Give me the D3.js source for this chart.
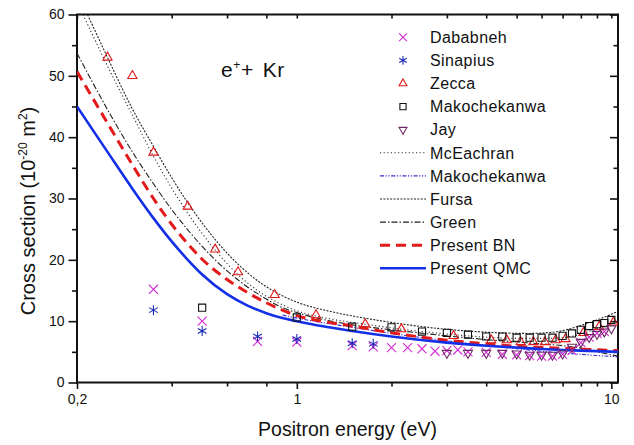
<!DOCTYPE html>
<html>
<head>
<meta charset="utf-8">
<script src="https://cdn.jsdelivr.net/npm/d3@7"></script>
<style>
  body { margin: 0; background: #fff; }
  text { font-family: Arial, "Liberation Sans", sans-serif; fill: #111; }
</style>
</head>
<body>
<div id="chart"></div>
<script>
// experimental data (energy in eV, cross section in 1e-20 m^2)
const dababnehE  = [0.35, 0.5, 0.75, 1, 1.5, 1.75, 2, 2.25, 2.5, 2.75, 3, 3.25, 3.5, 4, 4.5, 5, 5.5, 6, 6.5, 7, 7.5, 8, 8.5, 9, 9.5];
const dababnehCS = [15.2, 10.0, 6.7, 6.6, 6.0, 5.8, 5.7, 5.7, 5.5, 5.1, 5.2, 5.3, 5.0, 4.9, 4.6, 4.5, 4.4, 4.3, 4.3, 4.6, 5.2, 6.5, 7.4, 8.0, 8.3];

const sinapiusE  = [0.35, 0.5, 0.75, 1, 1.5, 1.75];
const sinapiusCS = [11.8, 8.4, 7.5, 7.1, 6.4, 6.3];

const zeccaE  = [0.25, 0.3, 0.35, 0.45, 0.55, 0.65, 0.85, 1.15, 1.65, 2.15, 3.15, 4.15, 4.65, 5.15, 5.65, 6.15, 6.65, 7.15, 8.15, 9.15, 10.15];
const zeccaCS = [53, 50, 37.5, 28.7, 21.7, 18, 14.3, 11, 9.5, 8.7, 7.6, 6.9, 6.9, 6.6, 6.6, 6.6, 6.9, 7.1, 8.1, 9.1, 9.8];

const makoE  = [0.5, 1, 1.5, 2, 2.5, 3, 3.5, 4, 4.5, 5, 5.5, 6, 6.5, 7, 7.5, 8, 8.5, 9, 9.5, 10];
const makoCS = [12.2, 10.6, 9.1, 9.0, 8.3, 8.1, 7.8, 7.5, 7.5, 7.3, 7.3, 7.3, 7.3, 7.6, 8.0, 8.6, 9.2, 9.5, 9.7, 10.2];

const jayE  = [3, 3.5, 4, 4.5, 5, 5.5, 6, 6.5, 7, 7.5, 8, 8.5, 9, 9.5, 10];
const jayCS = [4.8, 4.8, 4.8, 4.8, 4.7, 4.5, 4.5, 4.5, 4.7, 5.8, 6.6, 7.4, 7.9, 8.3, 8.8];

// theory curves
const mceachranE  = [0.209, 0.25, 0.3, 0.35, 0.4, 0.45, 0.5, 0.55, 0.65, 0.75, 0.85, 1, 1.3, 1.6, 2, 3, 4, 5, 6, 7, 8, 9, 10.5];
const mceachranCS = [60, 51.6, 43.6, 36.9, 31.7, 27.6, 24.3, 21.6, 17.6, 15.0, 13.3, 11.7, 10.3, 9.6, 8.9, 7.9, 7.4, 7.2, 7.2, 7.3, 7.9, 8.8, 9.9];

const makoThE  = [0.9, 1, 1.5, 2, 3, 4, 5, 6, 7, 8, 9, 10.5];
const makoThCS = [11.0, 10.5, 9.0, 8.0, 6.8, 6.0, 5.5, 5.1, 4.8, 4.6, 4.4, 4.2];

const fursaE  = [0.216, 0.25, 0.3, 0.35, 0.4, 0.45, 0.5, 0.55, 0.65, 0.75, 0.85, 1, 1.3, 1.6, 2, 2.7, 3.5, 4.4, 5.5, 6.5, 7.2, 8, 9, 10.5];
const fursaCS = [60, 53.0, 44.6, 38.5, 33.4, 29.3, 26.0, 23.3, 19.3, 16.6, 14.8, 13.1, 11.5, 10.6, 9.8, 8.9, 8.4, 8.1, 8.0, 8.2, 8.6, 9.3, 10.2, 11.6];

const greenE  = [0.2, 0.25, 0.3, 0.35, 0.4, 0.45, 0.5, 0.6, 0.7, 0.8, 0.9, 1, 1.5, 2, 3, 4, 5, 6, 7, 8, 9, 10.5];
const greenCS = [53.7, 44.5, 37.6, 32.4, 28.2, 24.9, 22.2, 18.2, 15.5, 13.6, 12.2, 11.4, 9.4, 8.6, 7.6, 7.0, 6.6, 6.3, 6.0, 5.6, 5.0, 4.3];

const bnE  = [0.2, 0.25, 0.3, 0.35, 0.4, 0.45, 0.5, 0.6, 0.7, 0.8, 0.9, 1, 1.2, 1.5, 2, 3, 4, 5, 6, 8, 10.5];
const bnCS = [50.7, 42.3, 35.5, 30.0, 25.8, 22.6, 20.1, 16.8, 14.6, 13.0, 11.8, 10.9, 10.0, 9.2, 8.1, 6.9, 6.3, 5.9, 5.7, 5.45, 5.2];

const qmcE  = [0.2, 0.25, 0.3, 0.35, 0.4, 0.45, 0.5, 0.6, 0.7, 0.8, 0.9, 1, 1.2, 1.5, 2, 3, 4, 5, 6, 7, 8, 10.5];
const qmcCS = [45.0, 37.6, 31.6, 26.8, 23.0, 20.0, 17.6, 14.4, 12.5, 11.3, 10.5, 10.0, 9.2, 8.4, 7.5, 6.5, 6.0, 5.7, 5.45, 5.3, 5.2, 5.0];

const xTicks = [0.2, 0.4, 0.6, 0.8, 1, 2, 3, 4, 5, 6, 7, 8, 9, 10];
const xLabels = { 0.2: "0,2", 1: "1", 10: "10" };
const yTicks = [0, 10, 20, 30, 40, 50, 60];
const yMinor = [5, 15, 25, 35, 45, 55];

// canvas
const W = 634, H = 445;
const margins = { top: 14.5, right: 16, bottom: 62.5, left: 77 };

const svg = d3.select("#chart").append("svg")
    .attr("width", W)
    .attr("height", H);

const xScale = d3.scaleLog()
    .domain([0.2, 10.5])
    .range([margins.left, W - margins.right]);

const yScale = d3.scaleLinear()
    .domain([0, 60])
    .range([H - margins.bottom, margins.top]);

const x0 = margins.left, x1 = W - margins.right;
const y0 = H - margins.bottom, y1 = margins.top;

// axes
const bottomAxis = svg.append("g")
    .attr("transform", "translate(0," + y0 + ")")
    .call(d3.axisBottom(xScale).tickValues(xTicks)
        .tickSize(4).tickFormat(d => xLabels[d] || ""));
bottomAxis.selectAll(".tick line")
    .attr("y2", d => xLabels[d] ? 6.5 : 4);

svg.append("g")
    .attr("transform", "translate(0," + y1 + ")")
    .call(d3.axisTop(xScale).tickValues(xTicks).tickSize(-4).tickFormat(""));

svg.append("g")
    .attr("transform", "translate(" + x0 + ",0)")
    .call(d3.axisLeft(yScale).tickValues(yTicks).tickSize(8.5).tickPadding(4));
svg.append("g")
    .attr("transform", "translate(" + x0 + ",0)")
    .call(d3.axisLeft(yScale).tickValues(yMinor).tickSize(5).tickFormat(""));

svg.append("g")
    .attr("transform", "translate(" + x1 + ",0)")
    .call(d3.axisRight(yScale).tickValues(yTicks).tickSize(-8).tickFormat(""));
svg.append("g")
    .attr("transform", "translate(" + x1 + ",0)")
    .call(d3.axisRight(yScale).tickValues(yMinor).tickSize(-4.5).tickFormat(""));

svg.selectAll(".domain").remove();
svg.selectAll(".tick line").attr("stroke", "#111").attr("stroke-width", 1.6);
svg.selectAll(".tick text")
    .style("font-family", "Arial, 'Liberation Sans', sans-serif")
    .style("font-size", "14px")
    .attr("fill", "#111");
bottomAxis.selectAll(".tick text").attr("dy", "1.05em");

// frame
svg.append("rect")
    .attr("x", x0).attr("y", y1)
    .attr("width", x1 - x0).attr("height", y0 - y1)
    .attr("fill", "none")
    .attr("stroke", "#111")
    .attr("stroke-width", 2);

// axis titles
svg.append("text")
    .attr("x", (x0 + x1) / 2)
    .attr("y", 436)
    .style("text-anchor", "middle")
    .style("font-size", "19.5px")
    .text("Positron energy (eV)");

const yTitle = svg.append("text")
    .attr("transform", "translate(35,211) rotate(-90)")
    .style("text-anchor", "middle")
    .style("font-size", "20px");
yTitle.append("tspan").text("Cross section (10");
yTitle.append("tspan").attr("dy", -8).style("font-size", "12px").text("-20");
yTitle.append("tspan").attr("dy", 8).text(" m");
yTitle.append("tspan").attr("dy", -8).style("font-size", "12px").text("2");
yTitle.append("tspan").attr("dy", 8).text(")");

// annotation
const ann = svg.append("text")
    .attr("x", 221)
    .attr("y", 77)
    .style("font-size", "21px")
    .style("letter-spacing", "0.6px");
ann.append("tspan").text("e");
ann.append("tspan").attr("dy", -8).style("font-size", "12px").text("+");
ann.append("tspan").attr("dy", 8).text("+");
ann.append("tspan").attr("dx", 9).text("Kr");

// plotting group clipped to frame
svg.append("clipPath").attr("id", "clip")
    .append("rect").attr("x", x0).attr("y", y1)
    .attr("width", x1 - x0).attr("height", y0 - y1);
const plot = svg.append("g").attr("clip-path", "url(#clip)");

const lineGen = d3.line()
    .x(d => xScale(d[0]))
    .y(d => yScale(d[1]))
    .curve(d3.curveMonotoneX);

const curves = [
    { name: "McEachran",   e: mceachranE, cs: mceachranCS, color: "#333", width: 1.1, dash: "1.2,2.4" },
    { name: "Makochekanwa", e: makoThE,   cs: makoThCS,    color: "#3b2fd6", width: 1.1, dash: "4,1.6,1.2,1.6,1.2,1.6" },
    { name: "Fursa",       e: fursaE,     cs: fursaCS,     color: "#222", width: 1.1, dash: "2,1.4" },
    { name: "Green",       e: greenE,     cs: greenCS,     color: "#222", width: 1.1, dash: "6,2,1.5,2" },
    { name: "Present BN",  e: bnE,        cs: bnCS,        color: "#e41a1a", width: 3, dash: "10,6" },
    { name: "Present QMC", e: qmcE,       cs: qmcCS,       color: "#1430e6", width: 2.6, dash: null }
];

curves.forEach(c => {
    plot.append("path")
        .datum(d3.zip(c.e, c.cs))
        .attr("d", lineGen)
        .attr("fill", "none")
        .attr("stroke", c.color)
        .attr("stroke-width", c.width)
        .attr("stroke-dasharray", c.dash);
});

// markers
const markers = [
    { name: "Dababneh",     e: dababnehE, cs: dababnehCS, color: "#d42ad4", type: d3.symbolTimes,     size: 55, rot: 0 },
    { name: "Sinapius",     e: sinapiusE, cs: sinapiusCS, color: "#1c2ab8", type: d3.symbolAsterisk,  size: 70, rot: 0 },
    { name: "Zecca",        e: zeccaE,    cs: zeccaCS,    color: "#e01818", type: d3.symbolTriangle2, size: 60, rot: 0 },
    { name: "Makochekanwa", e: makoE,     cs: makoCS,     color: "#111",    type: d3.symbolSquare2,   size: 65, rot: 0 },
    { name: "Jay",          e: jayE,      cs: jayCS,      color: "#6e2a66", type: d3.symbolTriangle2, size: 60, rot: 180 }
];

markers.forEach(m => {
    plot.selectAll(null)
        .data(d3.zip(m.e, m.cs))
        .enter()
        .append("path")
        .attr("d", d3.symbol().type(m.type).size(m.size))
        .attr("transform", d => "translate(" + xScale(d[0]) + "," + yScale(d[1]) + ") rotate(" + m.rot + ")")
        .attr("fill", "none")
        .attr("stroke", m.color)
        .attr("stroke-width", 1.1);
});

// legend
const legend = svg.append("g");
const rowY = i => 37.3 + i * 23.1;

markers.forEach((m, i) => {
    legend.append("path")
        .attr("d", d3.symbol().type(m.type).size(m.size * 0.75))
        .attr("transform", "translate(403," + rowY(i) + ") rotate(" + m.rot + ")")
        .attr("fill", "none")
        .attr("stroke", m.color)
        .attr("stroke-width", 1.1);
    legend.append("text")
        .attr("x", 430).attr("y", rowY(i))
        .attr("dy", "0.36em")
        .style("font-size", "16px")
        .style("letter-spacing", "0.4px")
        .text(m.name);
});

curves.forEach((c, j) => {
    const i = j + markers.length;
    legend.append("line")
        .attr("x1", 380).attr("x2", 426)
        .attr("y1", rowY(i)).attr("y2", rowY(i))
        .attr("stroke", c.color)
        .attr("stroke-width", c.width)
        .attr("stroke-dasharray", c.dash);
    legend.append("text")
        .attr("x", 430).attr("y", rowY(i))
        .attr("dy", "0.36em")
        .style("font-size", "16px")
        .style("letter-spacing", "0.4px")
        .text(c.name);
});
</script>
</body>
</html>
